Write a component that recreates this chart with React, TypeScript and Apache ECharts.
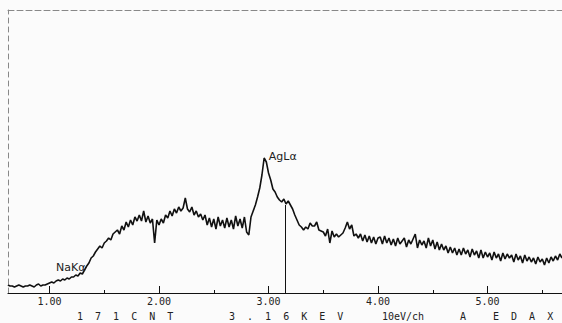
import React, { useEffect, useRef } from "react";
import * as echarts from "echarts";

// Spectrum: channel energies start at 0.62 keV, 20 eV per plotted point
const ENERGY_START_KEV = 0.62;
const CHANNEL_STEP_KEV = 0.02;

const counts: number[] = [
  16, 14, 14, 12, 14, 16, 14, 12, 14, 14, 16, 14, 12, 16, 18, 14, 16, 16, 18, 20,
  22, 20, 24, 26, 24, 28, 26, 30, 28, 32,
  32, 36, 34, 40, 38, 46, 54, 60, 70, 74,
  82, 88, 94, 90, 100, 104, 110, 106, 118, 122,
  126, 118, 134, 126, 142, 132, 146, 136, 152, 144,
  156, 144, 164, 142, 154, 140, 148, 100, 146, 136,
  148, 140, 156, 150, 164, 154, 168, 160, 172, 164,
  170, 190, 168, 162, 172, 156, 164, 152, 158, 146,
  156, 136, 150, 132, 148, 128, 152, 134, 146, 130,
  150, 132, 146, 128, 154, 134, 148, 130, 152, 122,
  116, 152, 164, 176, 192,
  210, 236, 270, 262, 240,
  226, 208, 202, 192, 186, 182, 188, 178, 184, 176,
  168, 156, 146, 136, 132, 126, 132, 128, 140, 134,
  134, 142, 126, 124, 122, 114, 128, 100, 124, 112,
  118, 112, 116, 120, 130, 142, 128, 136, 114, 118,
  110, 118, 104, 116, 102, 114, 100, 112, 98, 110,
  112, 98, 114, 100, 110, 96, 108, 94, 110, 98,
  104, 110, 92, 106, 98, 108, 118, 90, 106, 96,
  104, 90, 110, 94, 106, 88, 102, 86, 98, 86,
  94, 80, 92, 80, 90, 76, 88, 76, 90, 78,
  86, 72, 88, 76, 84, 70, 86, 70, 82, 72,
  80, 66, 82, 70, 78, 64, 80, 68, 78, 70,
  76, 62, 78, 66, 74, 60, 76, 64, 72, 62,
  70, 58, 72, 62, 68, 56, 70, 60, 72, 64,
  74, 66, 78, 70,
];

const X_MIN_KEV = 0.621;
const X_MAX_KEV = 5.68;
const Y_MAX_COUNTS = 566;
const MAJOR_TICKS = [1, 2, 3, 4, 5];
const MINOR_TICKS = [1.5, 2.5, 3.5, 4.5, 5.5];

const peakLabels = [
  { name: "NaKα", kev: 1.041, count: 52 },
  { name: "AgLα", kev: 2.984, count: 274 },
];

const CURSOR_KEV = 3.157;
const CURSOR_COUNT = 176;

const footerTexts = [
  { text: "1  7  1  C  N  T", x: 77 },
  { text: "3  .  1  6  K  E  V", x: 229 },
  { text: "10eV/ch", x: 382 },
  { text: "A", x: 460 },
  { text: "E  D  A  X", x: 493 },
];

export default function App() {
  const ref = useRef<HTMLDivElement>(null);

  useEffect(() => {
    if (!ref.current) return;
    const chart = echarts.init(ref.current, undefined, { renderer: "svg" });
    const mono = "'DejaVu Sans Mono', monospace";
    const data = counts.map((c, i) => [ENERGY_START_KEV + i * CHANNEL_STEP_KEV, c]);

    chart.setOption({
      animation: false,
      backgroundColor: "#fbfbfb",
      grid: { left: 8, right: 0, top: 10, bottom: 30 },
      xAxis: [
        {
          type: "value",
          min: X_MIN_KEV,
          max: X_MAX_KEV,
          position: "bottom",
          axisLine: { show: true, onZero: false, lineStyle: { color: "#111", width: 1.2 } },
          axisTick: {
            show: true,
            inside: true,
            length: 7,
            customValues: MAJOR_TICKS,
            lineStyle: { color: "#111", width: 1 },
          },
          axisLabel: {
            show: true,
            customValues: MAJOR_TICKS,
            formatter: (v: number) => v.toFixed(2),
            margin: 3,
            fontFamily: mono,
            fontSize: 10,
            color: "#222",
          },
          splitLine: { show: false },
        },
        {
          type: "value",
          min: X_MIN_KEV,
          max: X_MAX_KEV,
          position: "bottom",
          axisLine: { show: false, onZero: false },
          axisTick: {
            show: true,
            inside: true,
            length: 3,
            customValues: MINOR_TICKS,
            lineStyle: { color: "#111", width: 1 },
          },
          axisLabel: { show: false },
          splitLine: { show: false },
        },
        {
          type: "value",
          min: X_MIN_KEV,
          max: X_MAX_KEV,
          position: "top",
          axisLine: { show: true, onZero: false, lineStyle: { color: "#888", width: 1, type: [6, 3] } },
          axisTick: { show: false },
          axisLabel: { show: false },
          splitLine: { show: false },
        },
      ],
      yAxis: {
        type: "value",
        min: 0,
        max: Y_MAX_COUNTS,
        axisLine: { show: true, onZero: false, lineStyle: { color: "#888", width: 1, type: [5, 4] } },
        axisTick: { show: false },
        axisLabel: { show: false },
        splitLine: { show: false },
      },
      series: [
        {
          type: "line",
          xAxisIndex: 0,
          data,
          showSymbol: false,
          lineStyle: { color: "#111", width: 1.6 },
          markLine: {
            silent: true,
            symbol: "none",
            label: { show: false },
            lineStyle: { color: "#111", width: 1, type: "solid" },
            data: [[{ coord: [CURSOR_KEV, 0] }, { coord: [CURSOR_KEV, CURSOR_COUNT] }]],
          },
          markPoint: {
            symbol: "circle",
            symbolSize: 0,
            label: {
              show: true,
              position: "right",
              distance: 2,
              formatter: "{b}",
              color: "#222",
              fontFamily: "'DejaVu Sans', sans-serif",
              fontSize: 11,
            },
            data: peakLabels.map((p) => ({ name: p.name, coord: [p.kev, p.count] })),
          },
        },
      ],
      graphic: footerTexts.map((t) => ({
        type: "text",
        x: t.x,
        y: 316,
        style: {
          text: t.text,
          font: `10px ${mono}`,
          fill: "#222",
          verticalAlign: "middle",
        },
      })),
    });

    return () => chart.dispose();
  }, []);

  return (
    <div
      ref={ref}
      style={{ position: "fixed", left: 0, top: 0, width: 562, height: 323 }}
    />
  );
}
